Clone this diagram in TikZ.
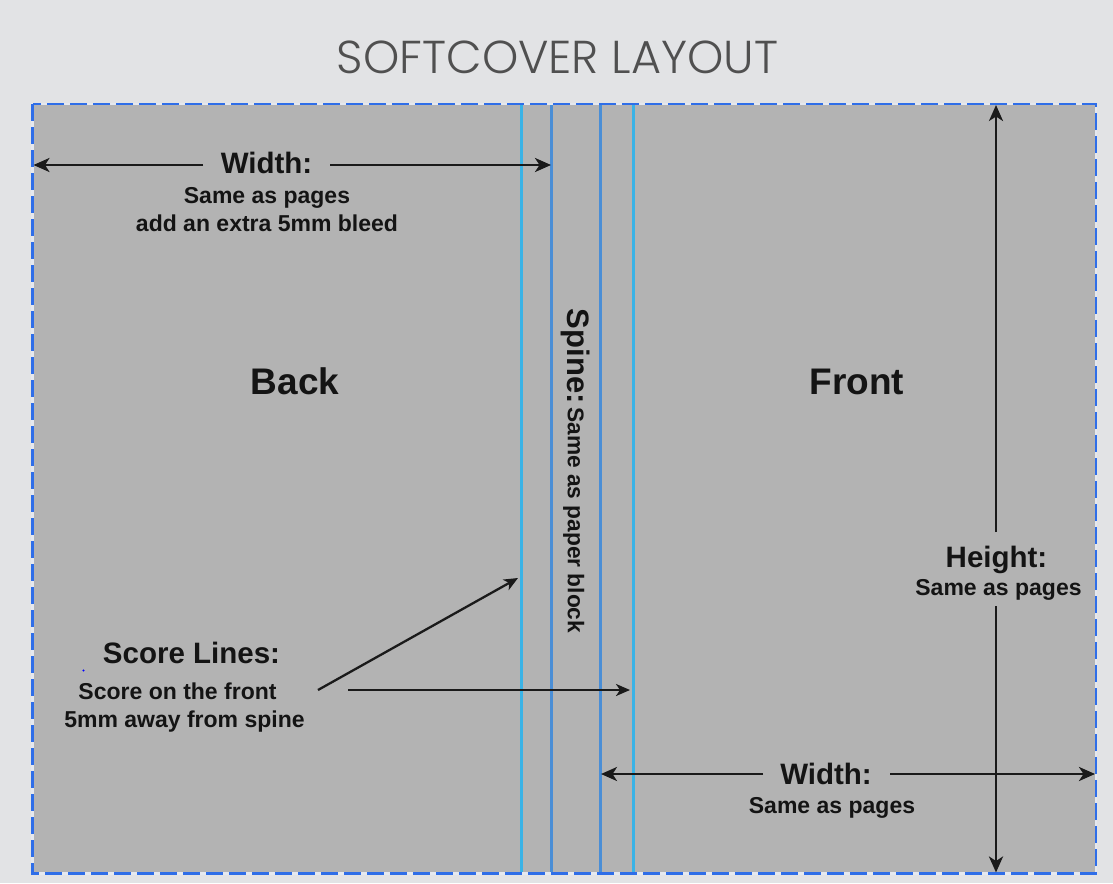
\documentclass[tikz,border=0pt]{standalone}
\usepackage{fontspec}
\setmainfont{Liberation Sans}
\newfontfamily\titlefont{Poppins Light}
\usetikzlibrary{arrows.meta}
\definecolor{bgc}{HTML}{E2E3E5}
\definecolor{panelc}{HTML}{B3B3B3}
\definecolor{cyanl}{HTML}{3AB3E6}
\definecolor{bluel}{HTML}{4A8ED6}
\definecolor{dashc}{HTML}{2F6EE8}
\definecolor{gapc}{HTML}{E6E9EF}
\definecolor{arrc}{HTML}{1A1A1A}
\definecolor{titlec}{HTML}{505050}
\definecolor{txtc}{HTML}{141414}
\begin{document}
\begin{tikzpicture}[x=1pt,y=-1pt,
  dim/.style={draw=arrc, line width=2.8pt, -{Stealth[length=16pt,width=14pt,inset=4.5pt]}},
  ptr/.style={draw=arrc, line width=2.3pt, -{Stealth[length=14pt,width=12pt,inset=4pt]}},
  lbl/.style={font=\bfseries\fontsize{23}{23}\selectfont, text=txtc, inner sep=0pt, anchor=base},
  big/.style={font=\bfseries\fontsize{29.5}{29.5}\selectfont, text=txtc, inner sep=0pt, anchor=base},
  huge/.style={font=\bfseries\fontsize{37}{37}\selectfont, text=txtc, inner sep=0pt, anchor=base},
  score/.style={line width=3pt, draw=cyanl},
  fold/.style={line width=2.4pt, draw=bluel}]
\fill[bgc] (0,0) rectangle (1113,883);
\useasboundingbox (0,0) rectangle (1113,883);
% title
\node[font=\titlefont, text=titlec, inner sep=0pt] (title) at (557.5,57) {\resizebox{441pt}{!}{SOFTCOVER LAYOUT}};
% panel
\node[fill=panelc, minimum width=1063pt, minimum height=769pt, inner sep=0pt, anchor=north west] (panel) at (32.5,104) {};
% score and fold lines
\draw[score] (521,104) -- (521,873);
\draw[fold] (551.5,104) -- (551.5,873);
\draw[fold] (600.5,104) -- (600.5,873);
\draw[score] (633,104) -- (633,873);
% dashed border
\draw[gapc, line width=2.6pt] (panel.north west) rectangle (panel.south east);
\draw[dashc, line width=2.6pt, dash pattern=on 17pt off 6pt] (panel.north west) rectangle (panel.south east);
% back / front
\node[huge] (back) at (295,394) {Back};
\node[huge] (front) at (857,394) {Front};
% top width
\node[big] (wt) at (266.5,173) {Width:};
\node[lbl] (wt1) at (267,203) {Same as pages};
\node[lbl] (wt2) at (267,231) {add an extra 5mm bleed};
\coordinate (wtL) at (33.5,165);
\coordinate (wtR) at (551,165);
\coordinate (wtA) at (203,165);
\coordinate (wtB) at (330,165);
\draw[dim] (wtA) -- (wtL);
\draw[dim] (wtB) -- (wtR);
% height
\node[big] (ht) at (996.5,567) {Height:};
\node[lbl] (ht1) at (998.5,595) {Same as pages};
\coordinate (hT) at (996,105);
\coordinate (hB) at (996,872.5);
\coordinate (hA) at (996,532);
\coordinate (hC) at (996,606);
\draw[dim] (hA) -- (hT);
\draw[dim] (hC) -- (hB);
% bottom width
\node[big] (wb) at (826,784) {Width:};
\node[lbl] (wb1) at (832,813) {Same as pages};
\coordinate (wbL) at (601,774);
\coordinate (wbR) at (1095,774);
\coordinate (wbA) at (763,774);
\coordinate (wbB) at (890,774);
\draw[dim] (wbA) -- (wbL);
\draw[dim] (wbB) -- (wbR);
% spine
\node[rotate=-90, inner sep=0pt, text=txtc] (spine) at (576,471) {{\fontsize{31}{31}\selectfont\bfseries Spine:} {\fontsize{22.7}{22.7}\selectfont\bfseries Same as paper block}};
% score lines
\node[big] (sl) at (191.5,663) {Score Lines:};
\node[lbl] (sl1) at (177.5,699) {Score on the front};
\node[lbl] (sl2) at (184.5,727) {5mm away from spine};
\coordinate (s1) at (318,690);
\coordinate (s1e) at (518,578);
\coordinate (s2) at (348,690);
\coordinate (s2e) at (630,690);
\draw[ptr] (s1) -- (s1e);
\draw[ptr] (s2) -- (s2e);
\fill[blue] (83.5,670.5) circle (1.2pt);
\end{tikzpicture}
\end{document}
